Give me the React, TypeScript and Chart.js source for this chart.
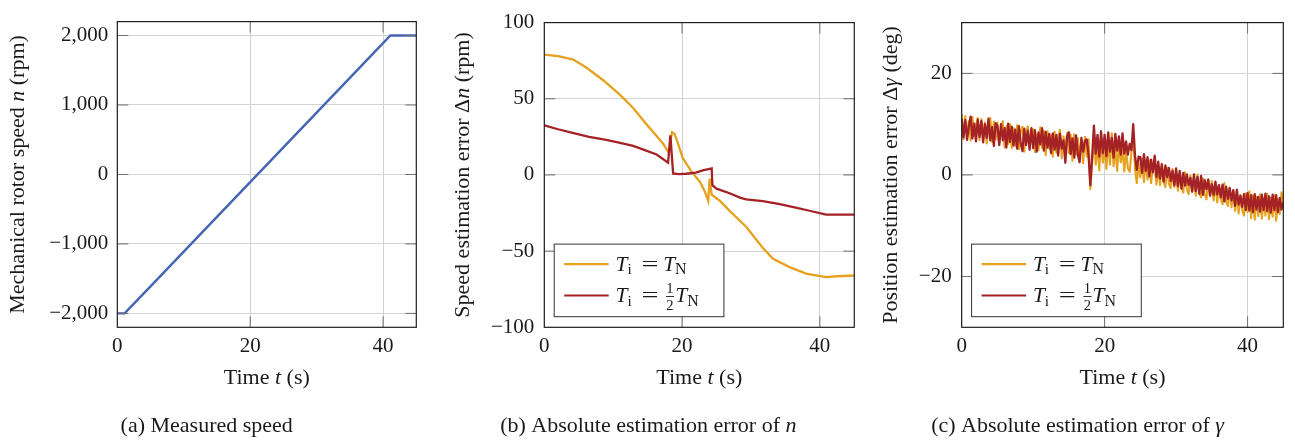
import React, { useEffect, useRef } from "react";
import { Chart, registerables } from "chart.js";
Chart.register(...registerables);

// ---------------- data ----------------
const timeTicks = [0, 20, 40];
const timeTickLabels = ["0", "20", "40"];

// (a) measured speed
const speedTime = [0, 1.1, 5, 10, 15, 20, 25, 30, 35, 41.1, 45];
const speedValues = [-2000, -2000, -1610, -1110, -610, -110, 390, 890, 1390, 2000, 2000];
const speedTicks = [-2000, -1000, 0, 1000, 2000];
const speedTickLabels = ["\u22122,000", "\u22121,000", "0", "1,000", "2,000"];

// (b) speed estimation error
const errNTimeFull = [0, 2, 4.2, 6.1, 8.6, 11, 12.9, 14.8, 17.2, 18.1, 18.3, 18.55, 18.9, 19.3, 20.1, 21.4, 22.6, 23.3, 23.8, 24.0, 24.3, 25.5, 26.9, 29.3, 31.7, 33.2, 35.6, 38, 40.9, 42.5, 45];
const errNFull = [79, 78, 75.7, 70.5, 62, 52.5, 44, 33.5, 20.8, 14.5, 22, 28, 27, 22, 11, 2, -4.6, -10.9, -17, -2.4, -13, -17, -23.6, -34, -47.8, -55, -60.5, -64.8, -67, -66.5, -66];
const errNTimeHalf = [0, 2, 4.1, 6.5, 9, 11, 12.9, 14.5, 16.3, 17.97, 18.3, 18.7, 19.5, 20.6, 22, 23, 24.3, 24.4, 25, 26.9, 28.5, 29.3, 31.7, 34, 36.5, 38.5, 40.9, 45];
const errNHalf = [32.5, 30, 27.6, 25, 23, 21, 19.1, 16.5, 13.4, 8.1, 26, 1.0, 0.5, 0.8, 1.5, 3, 4.3, -6.7, -9, -12, -15, -16, -17.2, -19, -21.4, -23.5, -26.1, -26.1];
const errNTicks = [-100, -50, 0, 50, 100];
const errNTickLabels = ["\u2212100", "\u221250", "0", "50", "100"];

// (c) position estimation error
const gammaTime = [
  0, 0.25, 0.5, 0.75, 1, 1.25, 1.5, 1.75, 2, 2.25,
  2.5, 2.75, 3, 3.25, 3.5, 3.75, 4, 4.25, 4.5, 4.75,
  5, 5.25, 5.5, 5.75, 6, 6.25, 6.5, 6.75, 7, 7.25,
  7.5, 7.75, 8, 8.25, 8.5, 8.75, 9, 9.25, 9.5, 9.75,
  10, 10.25, 10.5, 10.75, 11, 11.25, 11.5, 11.75, 12, 12.25,
  12.5, 12.75, 13, 13.25, 13.5, 13.75, 14, 14.25, 14.5, 14.75,
  15, 15.25, 15.5, 15.75, 16, 16.25, 16.5, 16.75, 17, 17.25,
  17.5, 17.75, 18, 18.25, 18.5, 18.75, 19, 19.25, 19.5, 19.75,
  20, 20.25, 20.5, 20.75, 21, 21.25, 21.5, 21.75, 22, 22.25,
  22.5, 22.75, 23, 23.25, 23.5, 23.75, 24, 24.25, 24.5, 24.75,
  25, 25.25, 25.5, 25.75, 26, 26.25, 26.5, 26.75, 27, 27.25,
  27.5, 27.75, 28, 28.25, 28.5, 28.75, 29, 29.25, 29.5, 29.75,
  30, 30.25, 30.5, 30.75, 31, 31.25, 31.5, 31.75, 32, 32.25,
  32.5, 32.75, 33, 33.25, 33.5, 33.75, 34, 34.25, 34.5, 34.75,
  35, 35.25, 35.5, 35.75, 36, 36.25, 36.5, 36.75, 37, 37.25,
  37.5, 37.75, 38, 38.25, 38.5, 38.75, 39, 39.25, 39.5, 39.75,
  40, 40.25, 40.5, 40.75, 41, 41.25, 41.5, 41.75, 42, 42.25,
  42.5, 42.75, 43, 43.25, 43.5, 43.75, 44, 44.25, 44.5, 44.75,
  45,
];
const gammaFull = [
  12.0, 7.0, 11.6, 8.0, 10.6, 6.8, 11.4, 7.7, 9.8, 11.2,
  6.9, 11.0, 7.4, 10.3, 6.2, 9.4, 11.2, 6.5, 10.5, 7.0,
  10.3, 5.9, 8.9, 10.6, 5.4, 9.6, 6.1, 10.0, 5.3, 9.2,
  5.8, 9.8, 5.1, 8.6, 9.5, 4.6, 8.3, 9.6, 5.4, 8.0,
  9.0, 4.5, 8.0, 4.9, 9.4, 5.3, 8.7, 3.9, 8.6, 5.2,
  7.8, 3.6, 8.5, 4.4, 7.3, 8.9, 3.3, 7.6, 4.5, 8.3,
  4.3, 7.9, 2.8, 8.0, 4.0, 7.2, 3.4, 6.9, 2.3, 7.5,
  3.6, 7.0, -2.8, 2.4, 7.0, 2.0, 6.0, 0.9, 7.1, 2.4,
  5.8, 1.2, 6.8, 2.0, 8.2, 1.7, 5.4, 0.8, 6.2, 2.5,
  5.0, 0.7, 4.9, 1.3, 0.6, 4.5, 8.0, 1.2, -1.6, 2.4,
  -0.5, 3.2, -1.4, 2.8, -0.9, 2.9, -1.6, 2.0, 2.5, -1.9,
  1.6, -2.0, 2.2, -1.3, -2.4, 1.4, -1.8, -2.6, 1.2, -2.4,
  0.7, -3.1, -0.1, -2.4, -3.5, 0.5, -2.8, -3.8, -0.1, -3.3,
  -0.6, -4.1, 0.1, -3.6, -4.4, -0.7, -3.7, -4.8, -0.9, -4.2,
  -1.2, -5.0, -1.7, -5.4, -2.0, -4.7, -5.8, -1.6, -5.2, -6.1,
  -2.5, -6.4, -3.1, -7.1, -3.4, -7.6, -3.9, -6.9, -8.0, -3.6,
  -7.3, -3.2, -8.5, -4.0, -8.8, -4.3, -8.1, -3.8, -8.6, -4.6,
  -8.0, -3.7, -8.7, -4.5, -8.2, -3.9, -9.0, -4.8, -7.7, -3.4,
  -5.6,
];
const gammaHalf = [
  11.0, 7.4, 10.8, 6.9, 9.6, 11.5, 7.2, 10.1, 6.6, 10.9,
  7.5, 10.6, 6.4, 10.0, 7.3, 11.1, 6.8, 9.4, 5.7, 10.2,
  9.6, 5.9, 10.0, 6.8, 9.2, 5.4, 10.1, 6.5, 9.5, 5.8,
  8.9, 5.2, 9.6, 6.3, 4.7, 9.1, 5.9, 8.7, 5.0, 9.2,
  5.3, 8.8, 4.6, 8.4, 6.0, 9.2, 4.8, 8.5, 5.4, 8.1,
  4.3, 8.2, 5.0, 7.9, 3.8, 8.1, 5.2, 6.8, 2.4, 7.6,
  8.4, 4.1, 7.2, 3.4, 7.8, 4.0, 2.5, 7.3, 4.6, 6.7,
  7.0, 3.9, -2.0, 3.5, 9.7, 4.2, 7.9, 3.6, 8.6, 4.3,
  7.9, 3.7, 8.4, 4.6, 7.3, 3.4, 8.1, 4.8, 7.6, 4.0,
  8.2, 4.2, 6.6, 4.0, 6.1, 4.9, 10.0, 3.8, 1.0, 3.6,
  3.5, 0.4, 4.1, 0.8, 3.5, -0.3, 3.0, 0.5, 3.8, -0.4,
  2.6, -0.7, 2.1, -1.3, 1.9, -0.4, 1.4, -1.2, 0.8, -2.0,
  1.3, -2.2, 0.8, -2.7, 0.4, -2.1, 0.1, -2.0, -0.6, -3.3,
  0.1, -3.2, -0.4, -3.7, -0.2, -3.9, -1.0, -2.8, -0.9, -4.0,
  -1.8, -3.9, -1.3, -3.8, -2.0, -4.4, -1.9, -5.2, -2.3, -4.7,
  -2.6, -5.0, -3.0, -6.1, -2.9, -5.8, -4.1, -6.3, -3.8, -6.9,
  -3.6, -7.0, -4.0, -7.3, -3.8, -6.8, -4.3, -7.2, -3.9, -6.9,
  -3.7, -7.1, -4.2, -7.4, -3.9, -6.9, -4.0, -7.3, -4.5, -6.8,
  -5.4,
];
const gammaTicks = [-20, 0, 20];
const gammaTickLabels = ["\u221220", "0", "20"];

const seriesLabels = ["Ti = TN", "Ti = \u00BD TN"];

// ---------------- styling ----------------
const FONT = "'Liberation Serif', 'Times New Roman', serif";
const TEXT = "#1a1a1a";
const BLUE = "#4464b4";
const ORANGE = "#e6a11f";
const RED = "#a42226";
const GRID = "#d3d3d3";

type Seg = { t?: string; it?: boolean; sc?: number; dy?: number; gap?: number; sx?: number; frac?: [string, string] };

function fontStr(size: number, it: boolean) {
  return `${it ? "italic " : ""}${size}px ${FONT}`;
}
function segW(ctx: CanvasRenderingContext2D, s: Seg, size: number) {
  if (s.gap !== undefined) return s.gap * size;
  if (s.frac) {
    ctx.font = fontStr(size * 0.68, false);
    return Math.max(ctx.measureText(s.frac[0]).width, ctx.measureText(s.frac[1]).width) + size * 0.14;
  }
  ctx.font = fontStr(size * (s.sc ?? 1), !!s.it);
  return ctx.measureText(s.t || "").width * (s.sx ?? 1);
}
function drawRich(ctx: CanvasRenderingContext2D, segs: Seg[], x: number, y: number, size: number, align: "left" | "center") {
  const total = segs.reduce((a, s) => a + segW(ctx, s, size), 0);
  let cx = align === "center" ? x - total / 2 : x;
  ctx.fillStyle = TEXT;
  ctx.textBaseline = "alphabetic";
  ctx.textAlign = "left";
  for (const s of segs) {
    const w = segW(ctx, s, size);
    if (s.frac) {
      const fs = size * 0.68;
      ctx.font = fontStr(fs, false);
      ctx.textAlign = "center";
      const mx = cx + w / 2;
      ctx.fillText(s.frac[0], mx, y - size * 0.41);
      ctx.fillText(s.frac[1], mx, y + size * 0.35);
      ctx.fillRect(cx + size * 0.05, y - size * 0.29, w - size * 0.1, 0.9);
      ctx.textAlign = "left";
    } else if (s.t) {
      ctx.font = fontStr(size * (s.sc ?? 1), !!s.it);
      if (s.sx && s.sx !== 1) {
        ctx.save();
        ctx.translate(cx, y + (s.dy ?? 0) * size);
        ctx.scale(s.sx, 1);
        ctx.fillText(s.t, 0, 0);
        ctx.restore();
      } else {
        ctx.fillText(s.t, cx, y + (s.dy ?? 0) * size);
      }
    }
    cx += w;
  }
}

const legendRows: Seg[][] = [
  [{ t: "T", it: true }, { t: "i", sc: 0.72, dy: 0.15 }, { gap: 0.45 }, { t: "=", sx: 1.4 }, { gap: 0.22 }, { t: "T", it: true }, { t: "N", sc: 0.74, dy: 0.15 }],
  [{ t: "T", it: true }, { t: "i", sc: 0.72, dy: 0.15 }, { gap: 0.45 }, { t: "=", sx: 1.4 }, { gap: 0.3 }, { frac: ["1", "2"] }, { t: "T", it: true }, { t: "N", sc: 0.74, dy: 0.15 }],
];

type PanelCfg = {
  left: number;
  width: number;
  yWidth: number;
  padRight: number;
  yMin: number;
  yMax: number;
  yTicks: number[];
  yTickLabels: string[];
  yPad: number;
  yTitle: Seg[];
  yTitleX: number;
  caption: Seg[];
  captionX: number;
  legend: boolean;
  datasets: any[];
};

const H = 443;
const TOP = 11.7;
const BOTTOM = 327.3;

function makeDecor(cfg: PanelCfg) {
  return {
    id: "decor",
    afterDatasetsDraw(chart: any) {
      const ctx: CanvasRenderingContext2D = chart.ctx;
      const a = chart.chartArea;
      const xs = chart.scales.x;
      const ys = chart.scales.y;
      ctx.save();
      // inner tick marks
      ctx.strokeStyle = "#6e6e6e";
      ctx.lineWidth = 1;
      const TL = 11;
      ctx.beginPath();
      for (const v of timeTicks) {
        const px = xs.getPixelForValue(v);
        if (px <= a.left + 1 || px >= a.right - 1) continue;
        ctx.moveTo(px, a.bottom); ctx.lineTo(px, a.bottom - TL);
        ctx.moveTo(px, a.top); ctx.lineTo(px, a.top + TL);
      }
      for (const v of cfg.yTicks) {
        const py = ys.getPixelForValue(v);
        if (py <= a.top + 1 || py >= a.bottom - 1) continue;
        ctx.moveTo(a.left, py); ctx.lineTo(a.left + TL, py);
        ctx.moveTo(a.right, py); ctx.lineTo(a.right - TL, py);
      }
      ctx.stroke();
      // frame
      ctx.strokeStyle = "#1e1e1e";
      ctx.lineWidth = 1.2;
      ctx.strokeRect(a.left, a.top, a.right - a.left, a.bottom - a.top);
      // legend
      if (cfg.legend) {
        const bl = a.left + 9.9;
        const bw = 169.7;
        const bb = a.bottom - 10.6;
        const bh = 72.6;
        const bt = bb - bh;
        ctx.fillStyle = "#ffffff";
        ctx.fillRect(bl, bt, bw, bh);
        ctx.strokeStyle = "#333333";
        ctx.lineWidth = 1;
        ctx.strokeRect(bl, bt, bw, bh);
        const rows = [bt + 20, bt + 51.4];
        const cols = [ORANGE, RED];
        for (let i = 0; i < 2; i++) {
          ctx.strokeStyle = cols[i];
          ctx.lineWidth = 2.2;
          ctx.beginPath();
          ctx.moveTo(bl + 10, rows[i]);
          ctx.lineTo(bl + 54.5, rows[i]);
          ctx.stroke();
          drawRich(ctx, legendRows[i], bl + 61.3, rows[i] + 6.8, 21.5, "left");
        }
      }
      // axis titles
      drawRich(ctx, [{ t: "Time " }, { t: "t", it: true }, { t: " (s)" }], (a.left + a.right) / 2, 384, 22, "center");
      ctx.save();
      ctx.translate(cfg.yTitleX, (a.top + a.bottom) / 2);
      ctx.rotate(-Math.PI / 2);
      drawRich(ctx, cfg.yTitle, 0, 0, 22, "center");
      ctx.restore();
      // caption
      drawRich(ctx, cfg.caption, cfg.captionX, 431.5, 22, "center");
      ctx.restore();
    },
  };
}

function Panel({ cfg }: { cfg: PanelCfg }) {
  const ref = useRef<HTMLCanvasElement | null>(null);
  useEffect(() => {
    if (!ref.current) return;
    const tickFont = { family: FONT, size: 21 };
    const chart = new Chart(ref.current, {
      type: "line",
      data: { datasets: cfg.datasets },
      options: {
        responsive: false,
        animation: false,
        events: [],
        layout: { padding: { top: TOP, right: cfg.padRight, left: 0, bottom: 0 } },
        plugins: { legend: { display: false }, tooltip: { enabled: false } },
        elements: { point: { radius: 0 }, line: { tension: 0 } },
        scales: {
          x: {
            type: "linear",
            min: 0,
            max: 45,
            position: "bottom",
            grid: { color: GRID, lineWidth: 1, drawTicks: false, tickLength: 0 },
            border: { display: false },
            ticks: {
              autoSkip: false,
              padding: 7,
              color: TEXT,
              font: tickFont,
              callback: (v: any) => timeTickLabels[timeTicks.indexOf(Number(v))] ?? "",
            },
            afterBuildTicks: (s: any) => { s.ticks = timeTicks.map((v) => ({ value: v })); },
            afterFit: (s: any) => { s.height = H - BOTTOM; },
          },
          y: {
            type: "linear",
            min: cfg.yMin,
            max: cfg.yMax,
            grid: { color: GRID, lineWidth: 1, drawTicks: false, tickLength: 0 },
            border: { display: false },
            ticks: {
              autoSkip: false,
              padding: cfg.yPad,
              color: TEXT,
              font: tickFont,
              callback: (v: any) => cfg.yTickLabels[cfg.yTicks.indexOf(Number(v))] ?? "",
            },
            afterBuildTicks: (s: any) => { s.ticks = cfg.yTicks.map((v) => ({ value: v })); },
            afterFit: (s: any) => { s.width = cfg.yWidth; },
          },
        },
      } as any,
      plugins: [makeDecor(cfg)],
    });
    return () => chart.destroy();
  }, []);
  return (
    <canvas
      ref={ref}
      width={cfg.width}
      height={H}
      style={{ position: "absolute", left: cfg.left, top: 0, width: cfg.width, height: H }}
    />
  );
}

const pts = (xs: number[], ys: number[]) => xs.map((x, i) => ({ x, y: ys[i] }));

const panels: PanelCfg[] = [
  {
    left: 0, width: 430, yWidth: 117.3, padRight: 13.7,
    yMin: -2200, yMax: 2200, yTicks: speedTicks, yTickLabels: speedTickLabels, yPad: 9,
    yTitle: [{ t: "Mechanical rotor speed " }, { t: "n", it: true }, { t: " (rpm)" }],
    yTitleX: 23.5,
    caption: [{ t: "(a) Measured speed" }],
    captionX: 206.7,
    legend: false,
    datasets: [
      { label: "n", data: pts(speedTime, speedValues), borderColor: BLUE, borderWidth: 2.4, pointRadius: 0, fill: false },
    ],
  },
  {
    left: 430, width: 430, yWidth: 114.3, padRight: 5.7,
    yMin: -100, yMax: 100, yTicks: errNTicks, yTickLabels: errNTickLabels, yPad: 10,
    yTitle: [{ t: "Speed estimation error \u0394" }, { t: "n", it: true }, { t: " (rpm)" }],
    yTitleX: 38.5,
    caption: [{ t: "(b) Absolute estimation error of " }, { t: "n", it: true }],
    captionX: 218.3,
    legend: true,
    datasets: [
      { label: seriesLabels[0], data: pts(errNTimeFull, errNFull), borderColor: ORANGE, borderWidth: 2.3, pointRadius: 0, fill: false, order: 2 },
      { label: seriesLabels[1], data: pts(errNTimeHalf, errNHalf), borderColor: RED, borderWidth: 2.3, pointRadius: 0, fill: false, order: 1 },
    ],
  },
  {
    left: 860, width: 435, yWidth: 101.7, padRight: 11.7,
    yMin: -30, yMax: 30, yTicks: gammaTicks, yTickLabels: gammaTickLabels, yPad: 10,
    yTitle: [{ t: "Position estimation error \u0394" }, { t: "\u03B3", it: true }, { t: " (deg)" }],
    yTitleX: 36.9,
    caption: [{ t: "(c) Absolute estimation error of " }, { t: "\u03B3", it: true }],
    captionX: 217.5,
    legend: true,
    datasets: [
      { label: seriesLabels[0], data: pts(gammaTime, gammaFull), borderColor: ORANGE, borderWidth: 2.1, pointRadius: 0, fill: false, order: 2, borderJoinStyle: "round" },
      { label: seriesLabels[1], data: pts(gammaTime, gammaHalf), borderColor: RED, borderWidth: 2.3, pointRadius: 0, fill: false, order: 1, borderJoinStyle: "round" },
    ],
  },
];

export default function App() {
  return (
    <div style={{ position: "fixed", left: 0, top: 0, width: 1295, height: H, background: "#ffffff", overflow: "hidden" }}>
      {panels.map((p, i) => (
        <Panel key={i} cfg={p} />
      ))}
    </div>
  );
}
